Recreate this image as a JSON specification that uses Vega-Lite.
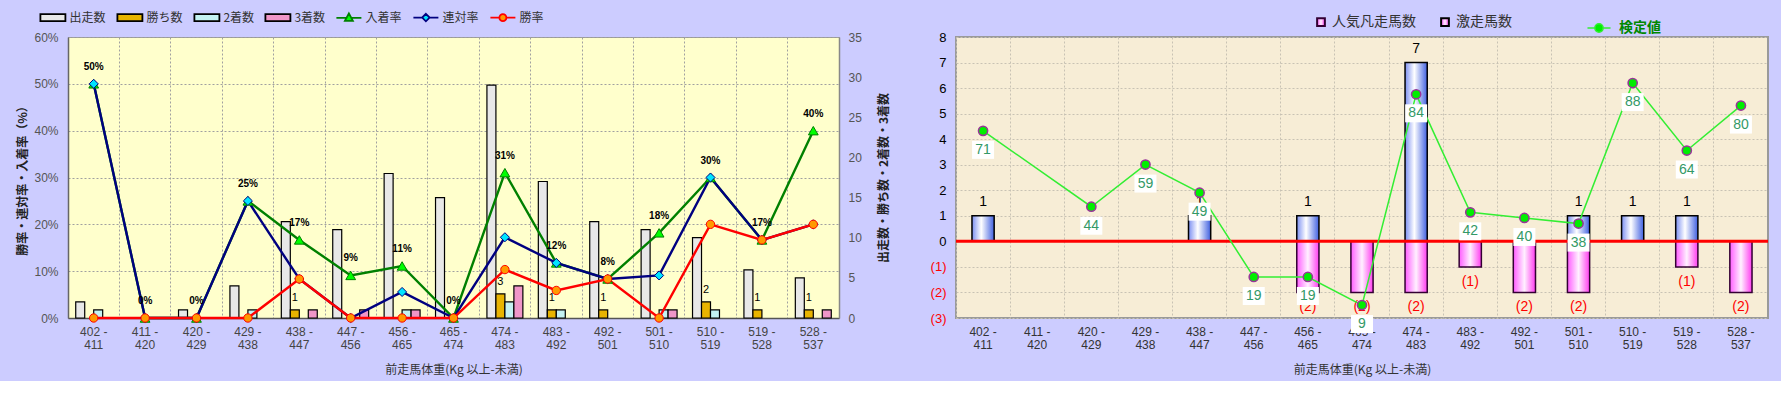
{
  "$schema": "https://vega.github.io/schema/vega-lite/v6.json",
  "background": "#CCCCFF",
  "padding": {"left": 15, "top": 3, "right": 10, "bottom": 5},
  "bounds": "flush",
  "spacing": 117,
  "resolve": {"scale": {"fill": "independent", "stroke": "independent", "color": "independent", "shape": "independent", "size": "independent"}, "legend": {"fill": "independent", "stroke": "independent", "color": "independent", "shape": "independent", "size": "independent"}},
  "config": {"font": "Noto Sans CJK JP", "axis": {"labelFont": "Liberation Sans"}, "axisY": {"labelOverlap": false}},
  "datasets": {
    "cnt": [
      {"c": "402-411", "s": "出走数", "n": 2}, {"c": "402-411", "s": "2着数", "n": 1},
      {"c": "420-429", "s": "出走数", "n": 1},
      {"c": "429-438", "s": "出走数", "n": 4}, {"c": "429-438", "s": "2着数", "n": 1},
      {"c": "438-447", "s": "出走数", "n": 12}, {"c": "438-447", "s": "勝ち数", "n": 1}, {"c": "438-447", "s": "3着数", "n": 1},
      {"c": "447-456", "s": "出走数", "n": 11}, {"c": "447-456", "s": "3着数", "n": 1},
      {"c": "456-465", "s": "出走数", "n": 18}, {"c": "456-465", "s": "2着数", "n": 1}, {"c": "456-465", "s": "3着数", "n": 1},
      {"c": "465-474", "s": "出走数", "n": 15},
      {"c": "474-483", "s": "出走数", "n": 29}, {"c": "474-483", "s": "勝ち数", "n": 3}, {"c": "474-483", "s": "2着数", "n": 2}, {"c": "474-483", "s": "3着数", "n": 4},
      {"c": "483-492", "s": "出走数", "n": 17}, {"c": "483-492", "s": "勝ち数", "n": 1}, {"c": "483-492", "s": "2着数", "n": 1},
      {"c": "492-501", "s": "出走数", "n": 12}, {"c": "492-501", "s": "勝ち数", "n": 1},
      {"c": "501-510", "s": "出走数", "n": 11}, {"c": "501-510", "s": "2着数", "n": 1}, {"c": "501-510", "s": "3着数", "n": 1},
      {"c": "510-519", "s": "出走数", "n": 10}, {"c": "510-519", "s": "勝ち数", "n": 2}, {"c": "510-519", "s": "2着数", "n": 1},
      {"c": "519-528", "s": "出走数", "n": 6}, {"c": "519-528", "s": "勝ち数", "n": 1},
      {"c": "528-537", "s": "出走数", "n": 5}, {"c": "528-537", "s": "勝ち数", "n": 1}, {"c": "528-537", "s": "3着数", "n": 1}
    ],
    "rate": [
      {"c": "402-411", "s": "入着率", "r": 0.5}, {"c": "411-420", "s": "入着率", "r": 0}, {"c": "420-429", "s": "入着率", "r": 0},
      {"c": "429-438", "s": "入着率", "r": 0.25}, {"c": "438-447", "s": "入着率", "r": 0.1667}, {"c": "447-456", "s": "入着率", "r": 0.0909},
      {"c": "456-465", "s": "入着率", "r": 0.1111}, {"c": "465-474", "s": "入着率", "r": 0}, {"c": "474-483", "s": "入着率", "r": 0.3103},
      {"c": "483-492", "s": "入着率", "r": 0.1176}, {"c": "492-501", "s": "入着率", "r": 0.0833}, {"c": "501-510", "s": "入着率", "r": 0.1818},
      {"c": "510-519", "s": "入着率", "r": 0.3}, {"c": "519-528", "s": "入着率", "r": 0.1667}, {"c": "528-537", "s": "入着率", "r": 0.4},
      {"c": "402-411", "s": "連対率", "r": 0.5}, {"c": "411-420", "s": "連対率", "r": 0}, {"c": "420-429", "s": "連対率", "r": 0},
      {"c": "429-438", "s": "連対率", "r": 0.25}, {"c": "438-447", "s": "連対率", "r": 0.0833}, {"c": "447-456", "s": "連対率", "r": 0},
      {"c": "456-465", "s": "連対率", "r": 0.0556}, {"c": "465-474", "s": "連対率", "r": 0}, {"c": "474-483", "s": "連対率", "r": 0.1724},
      {"c": "483-492", "s": "連対率", "r": 0.1176}, {"c": "492-501", "s": "連対率", "r": 0.0833}, {"c": "501-510", "s": "連対率", "r": 0.0909},
      {"c": "510-519", "s": "連対率", "r": 0.3}, {"c": "519-528", "s": "連対率", "r": 0.1667}, {"c": "528-537", "s": "連対率", "r": 0.2},
      {"c": "402-411", "s": "勝率", "r": 0}, {"c": "411-420", "s": "勝率", "r": 0}, {"c": "420-429", "s": "勝率", "r": 0},
      {"c": "429-438", "s": "勝率", "r": 0}, {"c": "438-447", "s": "勝率", "r": 0.0833}, {"c": "447-456", "s": "勝率", "r": 0},
      {"c": "456-465", "s": "勝率", "r": 0}, {"c": "465-474", "s": "勝率", "r": 0}, {"c": "474-483", "s": "勝率", "r": 0.1034},
      {"c": "483-492", "s": "勝率", "r": 0.0588}, {"c": "492-501", "s": "勝率", "r": 0.0833}, {"c": "501-510", "s": "勝率", "r": 0},
      {"c": "510-519", "s": "勝率", "r": 0.2}, {"c": "519-528", "s": "勝率", "r": 0.1667}, {"c": "528-537", "s": "勝率", "r": 0.2}
    ],
    "hits": [
      {"c": "402-411", "s": "激走馬数", "n": 1},
      {"c": "438-447", "s": "激走馬数", "n": 1},
      {"c": "456-465", "s": "激走馬数", "n": 1}, {"c": "456-465", "s": "人気凡走馬数", "n": -2},
      {"c": "465-474", "s": "人気凡走馬数", "n": -2},
      {"c": "474-483", "s": "激走馬数", "n": 7}, {"c": "474-483", "s": "人気凡走馬数", "n": -2},
      {"c": "483-492", "s": "人気凡走馬数", "n": -1},
      {"c": "492-501", "s": "人気凡走馬数", "n": -2},
      {"c": "501-510", "s": "激走馬数", "n": 1}, {"c": "501-510", "s": "人気凡走馬数", "n": -2},
      {"c": "510-519", "s": "激走馬数", "n": 1},
      {"c": "519-528", "s": "激走馬数", "n": 1}, {"c": "519-528", "s": "人気凡走馬数", "n": -1},
      {"c": "528-537", "s": "人気凡走馬数", "n": -2}
    ],
    "score": [
      {"c": "402-411", "v": 71}, {"c": "420-429", "v": 44}, {"c": "429-438", "v": 59}, {"c": "438-447", "v": 49},
      {"c": "447-456", "v": 19}, {"c": "456-465", "v": 19}, {"c": "465-474", "v": 9}, {"c": "474-483", "v": 84},
      {"c": "483-492", "v": 42}, {"c": "492-501", "v": 40}, {"c": "501-510", "v": 38}, {"c": "510-519", "v": 88},
      {"c": "519-528", "v": 64}, {"c": "528-537", "v": 80}
    ]
  },
  "hconcat": [
    {
      "width": 771,
      "height": 281,
      "view": {"fill": "#FFFFCC", "stroke": "#999999"},
      "encoding": {
        "x": {"field": "c", "type": "nominal", "sort": null,
          "scale": {"domain": ["402-411","411-420","420-429","429-438","438-447","447-456","456-465","465-474","474-483","483-492","492-501","501-510","510-519","519-528","528-537"], "paddingInner": 0, "paddingOuter": 0},
          "axis": {"title": "前走馬体重(Kg 以上-未満)", "bandPosition": 0, "grid": true, "gridColor": "#a0a0a0", "gridDash": [2, 2], "ticks": false, "labelAngle": 0,
            "labelExpr": "[split(datum.value, '-')[0] + ' -', split(datum.value, '-')[1]]",
            "labelFontSize": 12, "labelColor": "#444444", "labelPadding": 8, "labelLineHeight": 13, "labelOverlap": false,
            "domainColor": "#555555", "domainWidth": 1.5, "titleFont": "Noto Sans CJK JP", "titleFontSize": 12, "titleFontWeight": "normal", "titleColor": "#333333", "titlePadding": 14}}
      },
      "layer": [
        {
          "layer": [
            {
              "data": {"name": "cnt"},
              "mark": {"type": "bar", "strokeWidth": 1.2},
              "encoding": {
                "xOffset": {"field": "s", "type": "nominal", "sort": null, "scale": {"domain": ["出走数","勝ち数","2着数","3着数"], "paddingInner": 0, "paddingOuter": 0.86}},
                "y": {"field": "n", "type": "quantitative", "scale": {"domain": [0, 35]},
                  "axis": {"orient": "right", "values": [0,5,10,15,20,25,30,35], "tickCount": 8, "title": "出走数・勝ち数・2着数・3着数", "grid": false, "ticks": false, "labelPadding": 9, "labelFontSize": 12, "labelColor": "#555555", "domainColor": "#888888", "domainWidth": 1.5, "labelOverlap": false,
                    "titleFont": "Noto Sans CJK JP", "titleFontSize": 12, "titleFontWeight": "bold", "titleColor": "#222222", "titleAngle": -90, "titleX": 44, "titleBaseline": "middle"}},
                "fill": {"field": "s", "type": "nominal", "sort": null,
                  "scale": {"domain": ["出走数","勝ち数","2着数","3着数","入着率","連対率","勝率"], "range": ["#e8e8e8","#e8b400","#c4f2f2","#f096c8","#00ff00","#00e5ff","#ff9900"]},
                  "legend": {"orient": "none", "legendX": -28.6, "legendY": -33, "direction": "horizontal", "columns": 7, "title": null, "padding": 0,
                    "symbolSize": 625, "symbolOpacity": 1, "symbolStrokeWidth": 1.8,
                    "symbolType": {"expr": "datum.value === '入着率' ? 'M-1,0H-0.16M0.16,0H1M0,-0.36L0.32,0.24L-0.32,0.24Z' : datum.value === '連対率' ? 'M-1,0H-0.3M0.3,0H1M0,-0.3L0.3,0L0,0.3L-0.3,0Z' : datum.value === '勝率' ? 'M-1,0H-0.28M0.28,0H1M0.28,0A0.28,0.28 0 1,1 -0.28,0A0.28,0.28 0 1,1 0.28,0Z' : 'M-1,-0.28H1V0.28H-1Z'"},
                    "symbolStrokeColor": {"expr": "datum.value === '入着率' ? '#008000' : datum.value === '連対率' ? '#000080' : datum.value === '勝率' ? '#ff0000' : '#000000'"},
                    "labelFont": "Noto Sans CJK JP", "labelFontSize": 12, "labelColor": "#333333", "labelOffset": 3, "columnPadding": 7}},
                "stroke": {"field": "s", "type": "nominal", "sort": null,
                  "scale": {"domain": ["出走数","勝ち数","2着数","3着数","入着率","連対率","勝率"], "range": ["#000000","#000000","#000000","#000000","#008000","#000080","#ff0000"]}, "legend": null}
              }
            },
            {
              "data": {"name": "cnt"},
              "transform": [{"filter": "datum.s === '勝ち数'"}],
              "mark": {"type": "text", "dy": -12, "font": "Liberation Sans", "fontSize": 11, "color": "#000000"},
              "encoding": {
                "xOffset": {"field": "s", "type": "nominal", "sort": null, "scale": {"domain": ["出走数","勝ち数","2着数","3着数"], "paddingInner": 0, "paddingOuter": 0.86}},
                "y": {"field": "n", "type": "quantitative", "scale": {"domain": [0, 35]}, "axis": {"labelOverlap": false}},
                "text": {"field": "n", "type": "quantitative"}
              }
            }
          ]
        },
        {
          "layer": [
            {
              "data": {"name": "rate"},
              "mark": {"type": "line", "strokeWidth": 2.4},
              "encoding": {
                "y": {"field": "r", "type": "quantitative", "scale": {"domain": [0, 0.6]},
                  "axis": {"orient": "left", "values": [0,0.1,0.2,0.3,0.4,0.5,0.6], "tickCount": 7, "format": ".0%", "title": "勝率・連対率・入着率（%）", "grid": true, "gridColor": "#a0a0a0", "gridDash": [2, 2], "ticks": false, "labelPadding": 10, "labelFontSize": 12, "labelColor": "#555555", "domainColor": "#666666", "domainWidth": 1.5, "labelOverlap": false,
                    "titleFont": "Noto Sans CJK JP", "titleFontSize": 12, "titleFontWeight": "bold", "titleColor": "#222222", "titleX": -46, "titleBaseline": "middle"}},
                "stroke": {"field": "s", "type": "nominal", "sort": null,
                  "scale": {"domain": ["出走数","勝ち数","2着数","3着数","入着率","連対率","勝率"], "range": ["#000000","#000000","#000000","#000000","#008000","#000080","#ff0000"]}, "legend": null}
              }
            },
            {
              "data": {"name": "rate"},
              "mark": {"type": "point", "filled": true, "opacity": 1, "strokeWidth": 1},
              "encoding": {
                "y": {"field": "r", "type": "quantitative", "scale": {"domain": [0, 0.6]}, "axis": {"labelOverlap": false}},
                "shape": {"field": "s", "type": "nominal", "sort": null, "scale": {"domain": ["入着率","連対率","勝率"], "range": ["triangle-up","diamond","circle"]}, "legend": null},
                "size": {"field": "s", "type": "nominal", "sort": null, "scale": {"domain": ["入着率","連対率","勝率"], "range": [95, 70, 64]}, "legend": null},
                "fill": {"field": "s", "type": "nominal", "sort": null,
                  "scale": {"domain": ["出走数","勝ち数","2着数","3着数","入着率","連対率","勝率"], "range": ["#e8e8e8","#e8b400","#c4f2f2","#f096c8","#00ff00","#00e5ff","#ff9900"]}, "legend": null},
                "stroke": {"field": "s", "type": "nominal", "sort": null,
                  "scale": {"domain": ["出走数","勝ち数","2着数","3着数","入着率","連対率","勝率"], "range": ["#000000","#000000","#000000","#000000","#008000","#000080","#ff0000"]}, "legend": null}
              }
            },
            {
              "data": {"name": "rate"},
              "transform": [{"filter": "datum.s === '入着率'"}],
              "mark": {"type": "text", "dy": -17, "font": "Liberation Sans", "fontSize": 10, "fontWeight": "bold", "color": "#000000"},
              "encoding": {
                "y": {"field": "r", "type": "quantitative", "scale": {"domain": [0, 0.6]}, "axis": {"labelOverlap": false}},
                "text": {"field": "r", "type": "quantitative", "format": ".0%"}
              }
            }
          ]
        }
      ],
      "resolve": {"scale": {"y": "independent"}}
    },
    {
      "width": 812,
      "height": 281,
      "view": {"fill": "#F7EDD6", "stroke": "#9a9a9a", "strokeWidth": 2},
      "layer": [
        {
          "layer": [
            {
              "data": {"name": "hits"},
              "transform": [{"filter": "datum.s === '人気凡走馬数'"}],
              "mark": {"type": "bar", "width": {"band": 0.41}, "strokeWidth": 1.5,
                "fill": {"gradient": "linear", "x1": 0, "y1": 0, "x2": 1, "y2": 0, "stops": [{"offset": 0, "color": "#ff5cff"}, {"offset": 0.5, "color": "#fff0ff"}, {"offset": 1, "color": "#ff3cf0"}]}},
              "encoding": {
                "x": {"field": "c", "type": "nominal", "sort": null,
                  "scale": {"domain": ["402-411","411-420","420-429","429-438","438-447","447-456","456-465","465-474","474-483","483-492","492-501","501-510","510-519","519-528","528-537"], "paddingInner": 0, "paddingOuter": 0},
                  "axis": {"title": "前走馬体重(Kg 以上-未満)", "bandPosition": 0, "grid": true, "gridColor": "#c8c2b4", "gridDash": [2, 2], "ticks": false, "labelAngle": 0, "domain": false,
                    "labelExpr": "[split(datum.value, '-')[0] + ' -', split(datum.value, '-')[1]]",
                    "labelFontSize": 12, "labelColor": "#333333", "labelPadding": 8, "labelLineHeight": 13, "labelOverlap": false,
                    "titleFont": "Noto Sans CJK JP", "titleFontSize": 12, "titleFontWeight": "normal", "titleColor": "#333333", "titlePadding": 14}},
                "y": {"field": "n", "type": "quantitative", "scale": {"domain": [-3, 8], "nice": false},
                  "axis": {"values": [-3,-2,-1,0,1,2,3,4,5,6,7,8], "tickCount": 12, "format": "(d", "title": null, "ticks": false, "labelPadding": 10, "labelFontSize": 13, "labelOverlap": false,
                    "labelColor": {"condition": {"test": "datum.value < 0", "value": "#ff0000"}, "value": "#000000"},
                    "grid": true, "gridColor": "#c8c2b4", "gridDash": [2, 2], "domain": false}},
                "stroke": {"datum": "人気凡走馬数", "type": "nominal", "scale": {"domain": ["人気凡走馬数", "激走馬数"], "range": ["#330033", "#000000"]},
                  "legend": {"orient": "none", "legendX": 358, "legendY": -22, "direction": "horizontal", "columns": 2, "title": null, "padding": 0, "symbolType": "square", "symbolSize": 60, "symbolStrokeWidth": 2, "symbolFillColor": "#ffffff",
                    "labelFont": "Noto Sans CJK JP", "labelFontSize": 14, "labelColor": "#333333", "labelOffset": 4, "columnPadding": 21}}
              }
            },
            {
              "data": {"name": "hits"},
              "transform": [{"filter": "datum.s === '激走馬数'"}],
              "mark": {"type": "bar", "width": {"band": 0.41}, "strokeWidth": 1.5,
                "fill": {"gradient": "linear", "x1": 0, "y1": 0, "x2": 1, "y2": 0, "stops": [{"offset": 0, "color": "#7b8ff2"}, {"offset": 0.42, "color": "#ffffff"}, {"offset": 1, "color": "#4060e0"}]}},
              "encoding": {
                "x": {"field": "c", "type": "nominal", "sort": null, "scale": {"domain": ["402-411","411-420","420-429","429-438","438-447","447-456","456-465","465-474","474-483","483-492","492-501","501-510","510-519","519-528","528-537"], "paddingInner": 0, "paddingOuter": 0}},
                "y": {"field": "n", "type": "quantitative", "scale": {"domain": [-3, 8], "nice": false}, "axis": {"labelOverlap": false}},
                "stroke": {"datum": "激走馬数", "type": "nominal", "scale": {"domain": ["人気凡走馬数", "激走馬数"], "range": ["#330033", "#000000"]}, "legend": null}
              }
            },
            {
              "data": {"values": [{}]},
              "mark": {"type": "rule", "color": "#ff0000", "strokeWidth": 3},
              "encoding": {"y": {"datum": 0, "type": "quantitative", "scale": {"domain": [-3, 8], "nice": false}, "axis": {"labelOverlap": false}}}
            },
            {
              "data": {"name": "hits"},
              "transform": [{"filter": "datum.s === '激走馬数'"}],
              "mark": {"type": "text", "dy": -14, "font": "Liberation Sans", "fontSize": 14, "color": "#000000"},
              "encoding": {
                "x": {"field": "c", "type": "nominal", "sort": null, "scale": {"domain": ["402-411","411-420","420-429","429-438","438-447","447-456","456-465","465-474","474-483","483-492","492-501","501-510","510-519","519-528","528-537"], "paddingInner": 0, "paddingOuter": 0}},
                "y": {"field": "n", "type": "quantitative", "scale": {"domain": [-3, 8], "nice": false}, "axis": {"labelOverlap": false}},
                "text": {"field": "n", "type": "quantitative", "format": "d"}
              }
            },
            {
              "data": {"name": "hits"},
              "transform": [{"filter": "datum.s === '人気凡走馬数'"}],
              "mark": {"type": "text", "dy": 15, "font": "Liberation Sans", "fontSize": 14, "color": "#ff0000"},
              "encoding": {
                "x": {"field": "c", "type": "nominal", "sort": null, "scale": {"domain": ["402-411","411-420","420-429","429-438","438-447","447-456","456-465","465-474","474-483","483-492","492-501","501-510","510-519","519-528","528-537"], "paddingInner": 0, "paddingOuter": 0}},
                "y": {"field": "n", "type": "quantitative", "scale": {"domain": [-3, 8], "nice": false}, "axis": {"labelOverlap": false}},
                "text": {"field": "n", "type": "quantitative", "format": "(d"}
              }
            }
          ]
        },
        {
          "layer": [
            {
              "data": {"name": "score"},
              "mark": {"type": "line", "strokeWidth": 1.5},
              "encoding": {
                "x": {"field": "c", "type": "nominal", "sort": null, "scale": {"domain": ["402-411","411-420","420-429","429-438","438-447","447-456","456-465","465-474","474-483","483-492","492-501","501-510","510-519","519-528","528-537"], "paddingInner": 0, "paddingOuter": 0}},
                "y": {"field": "v", "type": "quantitative", "scale": {"domain": [4.4, 104.4], "nice": false, "zero": false}, "axis": null},
                "color": {"datum": "検定値", "type": "nominal", "scale": {"domain": ["検定値"], "range": ["#33ee33"]},
                  "legend": {"orient": "none", "legendX": 636, "legendY": -16, "title": null, "padding": 0,
                    "symbolType": "M-2.5,0H-0.9M0.9,0H2.5M0.9,0A0.9,0.9 0 1,1 -0.9,0A0.9,0.9 0 1,1 0.9,0Z", "symbolSize": 85, "symbolStrokeWidth": 1.5, "symbolFillColor": "#00ee00", "symbolStrokeColor": "#33cc33",
                    "labelFont": "Noto Sans CJK JP", "labelFontSize": 14, "labelFontWeight": "bold", "labelColor": "#008800", "labelOffset": 13}}
              }
            },
            {
              "data": {"name": "score"},
              "mark": {"type": "point", "shape": "circle", "filled": true, "fill": "#00ee00", "stroke": "#993399", "strokeWidth": 1.5, "size": 85, "opacity": 1},
              "encoding": {
                "x": {"field": "c", "type": "nominal", "sort": null, "scale": {"domain": ["402-411","411-420","420-429","429-438","438-447","447-456","456-465","465-474","474-483","483-492","492-501","501-510","510-519","519-528","528-537"], "paddingInner": 0, "paddingOuter": 0}},
                "y": {"field": "v", "type": "quantitative", "scale": {"domain": [4.4, 104.4], "nice": false, "zero": false}, "axis": null}
              }
            },
            {
              "data": {"name": "score"},
              "mark": {"type": "point", "shape": "M-1.1,-0.9H1.1V0.9H-1.1Z", "filled": true, "fill": "#ffffff", "strokeWidth": 0, "size": 400, "opacity": 1, "yOffset": 19},
              "encoding": {
                "x": {"field": "c", "type": "nominal", "sort": null, "scale": {"domain": ["402-411","411-420","420-429","429-438","438-447","447-456","456-465","465-474","474-483","483-492","492-501","501-510","510-519","519-528","528-537"], "paddingInner": 0, "paddingOuter": 0}},
                "y": {"field": "v", "type": "quantitative", "scale": {"domain": [4.4, 104.4], "nice": false, "zero": false}, "axis": null}
              }
            },
            {
              "data": {"name": "score"},
              "mark": {"type": "text", "dy": 19, "font": "Liberation Sans", "fontSize": 14, "color": "#339966"},
              "encoding": {
                "x": {"field": "c", "type": "nominal", "sort": null, "scale": {"domain": ["402-411","411-420","420-429","429-438","438-447","447-456","456-465","465-474","474-483","483-492","492-501","501-510","510-519","519-528","528-537"], "paddingInner": 0, "paddingOuter": 0}},
                "y": {"field": "v", "type": "quantitative", "scale": {"domain": [4.4, 104.4], "nice": false, "zero": false}, "axis": null},
                "text": {"field": "v", "type": "quantitative"}
              }
            }
          ]
        }
      ],
      "resolve": {"scale": {"y": "independent"}}
    }
  ]
}
